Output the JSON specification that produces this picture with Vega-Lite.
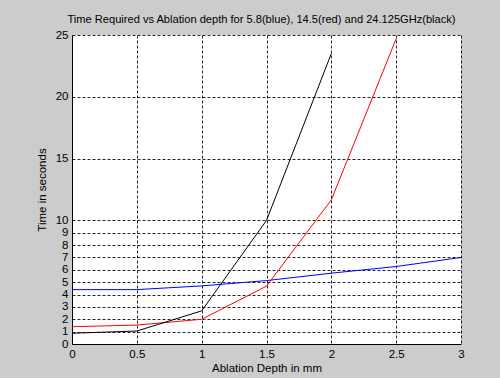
{
  "$schema": "https://vega.github.io/schema/vega-lite/v6.json",
  "autosize": "none",
  "width": 389,
  "height": 309,
  "padding": {"left": 72, "top": 35, "right": 39, "bottom": 34},
  "background": "#cccccc",
  "title": {
    "text": "Time Required vs Ablation depth for 5.8(blue), 14.5(red) and 24.125GHz(black)",
    "font": "Liberation Sans",
    "fontSize": 11.1,
    "fontWeight": "normal",
    "color": "#000000",
    "anchor": "middle",
    "offset": 4,
    "dx": -5
  },
  "config": {
    "view": {"fill": "#ffffff", "stroke": null},
    "axis": {
      "labelFont": "Liberation Sans",
      "labelFontSize": 11.5,
      "labelColor": "#000000",
      "titleFont": "Liberation Sans",
      "titleFontSize": 11.5,
      "titleFontWeight": "normal",
      "titleColor": "#000000",
      "domainColor": "#000000",
      "domainWidth": 1,
      "gridColor": "#000000",
      "gridDash": [3, 2],
      "gridOpacity": 0.85,
      "gridWidth": 1,
      "ticks": false
    }
  },
  "data": {
    "values": [
      {"depth": 0, "time": 4.4, "series": "5.8 GHz"},
      {"depth": 0.5, "time": 4.4, "series": "5.8 GHz"},
      {"depth": 1, "time": 4.7, "series": "5.8 GHz"},
      {"depth": 1.5, "time": 5.13, "series": "5.8 GHz"},
      {"depth": 2, "time": 5.73, "series": "5.8 GHz"},
      {"depth": 2.5, "time": 6.27, "series": "5.8 GHz"},
      {"depth": 3, "time": 7.0, "series": "5.8 GHz"},
      {"depth": 0, "time": 1.4, "series": "14.5 GHz"},
      {"depth": 0.5, "time": 1.53, "series": "14.5 GHz"},
      {"depth": 1, "time": 2.0, "series": "14.5 GHz"},
      {"depth": 1.5, "time": 4.68, "series": "14.5 GHz"},
      {"depth": 2, "time": 11.66, "series": "14.5 GHz"},
      {"depth": 2.5, "time": 24.7, "series": "14.5 GHz"},
      {"depth": 0, "time": 0.87, "series": "24.125 GHz"},
      {"depth": 0.5, "time": 1.05, "series": "24.125 GHz"},
      {"depth": 1, "time": 2.68, "series": "24.125 GHz"},
      {"depth": 1.5, "time": 10.0, "series": "24.125 GHz"},
      {"depth": 2, "time": 23.5, "series": "24.125 GHz"}
    ]
  },
  "mark": {"type": "line", "strokeWidth": 1, "clip": true},
  "encoding": {
    "x": {
      "field": "depth",
      "type": "quantitative",
      "scale": {"domain": [0, 3], "nice": false},
      "axis": {
        "title": "Ablation Depth in mm",
        "values": [0, 0.5, 1, 1.5, 2, 2.5, 3],
        "format": "~g",
        "labelPadding": 4,
        "titlePadding": 3,
        "labelFlush": false
      }
    },
    "y": {
      "field": "time",
      "type": "quantitative",
      "scale": {"domain": [0, 25], "nice": false},
      "axis": {
        "title": "Time in seconds",
        "values": [0, 1, 2, 3, 4, 5, 6, 7, 8, 9, 10, 15, 20, 25],
        "labelPadding": 4,
        "titlePadding": 8,
        "labelFlush": false
      }
    },
    "color": {
      "field": "series",
      "type": "nominal",
      "scale": {"domain": ["5.8 GHz", "14.5 GHz", "24.125 GHz"], "range": ["#0000ff", "#ff0000", "#000000"]},
      "legend": null
    }
  }
}
